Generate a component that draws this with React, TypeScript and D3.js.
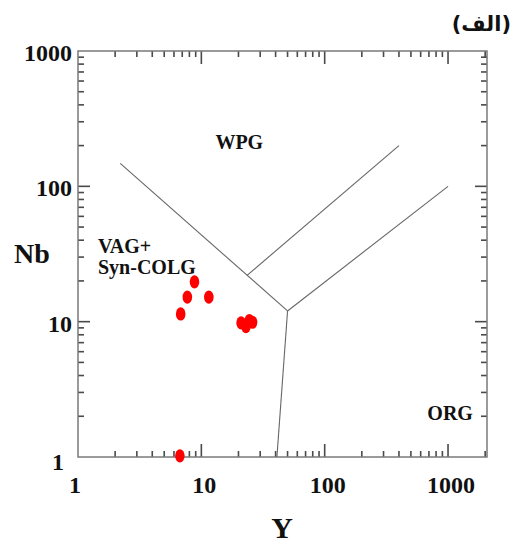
import * as d3 from 'd3'

// sample points (Y ppm, Nb ppm)
const yValues = [8.8, 7.7, 11.5, 6.8, 21, 23, 24.5, 26, 6.7]
const nbValues = [19.7, 15.2, 15.2, 11.4, 9.8, 9.2, 10.2, 9.9, 1.02]

// field boundaries, each as [Y, Nb] pairs
const boundaries: [number, number][][] = [
  [[2.2, 148], [50, 12]],
  [[50, 12], [41, 1]],
  [[50, 12], [1000, 100]],
  [[23.5, 22], [400, 200]],
]

const xTickLabels = [1, 10, 100, 1000]
const yTickLabels = [1, 10, 100, 1000]

const fieldLabels = [
  { text: 'WPG', Y: 13, Nb: 190 },
  { text: 'ORG', Y: 680, Nb: 1.88 },
]

const width = 524
const height = 545
const margin = { left: 78, right: 487, top: 51, bottom: 457 }
const serif = '"Liberation Serif", "Times New Roman", serif'

const App = () => {
  const x = d3.scaleLog().domain([1, 2070]).range([margin.left, margin.right])
  const y = d3.scaleLog().domain([1, 1000]).range([margin.bottom, margin.top])

  const isMajor = (v: number) => Math.abs(Math.log10(v) - Math.round(Math.log10(v))) < 1e-9
  const xTicks = x.ticks().filter(v => v > 1)
  const yTicks = y.ticks().filter(v => v > 1 && v < 1000)

  const line = d3.line<[number, number]>().x(d => x(d[0])).y(d => y(d[1]))
  const tw = 1.6

  return (
    <svg width={width} height={height}
      style={{ position: 'absolute', left: 0, top: 0, display: 'block', background: '#fff' }}>
      {/* inward ticks, drawn as thin filled bars */}
      <g fill="#4a4a4a">
        {xTicks.map(v => {
          const len = isMajor(v) ? 13 : 6
          return (
            <g key={'x' + v}>
              <rect x={x(v) - tw / 2} y={margin.bottom - len} width={tw} height={len} />
              <rect x={x(v) - tw / 2} y={margin.top} width={tw} height={len} />
            </g>
          )
        })}
        {yTicks.map(v => {
          const len = isMajor(v) ? 12 : 6
          return (
            <g key={'y' + v}>
              <rect x={margin.left} y={y(v) - tw / 2} width={len} height={tw} />
              <rect x={margin.right - len} y={y(v) - tw / 2} width={len} height={tw} />
            </g>
          )
        })}
      </g>
      <rect x={margin.left} y={margin.top} width={margin.right - margin.left}
        height={margin.bottom - margin.top} fill="none" stroke="#7a7a7a" strokeWidth={1.5} />

      {/* field boundaries */}
      {boundaries.map((b, i) => (
        <path key={i} d={line(b) || ''} fill="none" stroke="#666" strokeWidth={1.1} />
      ))}

      {/* tick labels */}
      <g fontFamily={serif} fontWeight="bold" fontSize={24} fill="#111">
        {xTickLabels.map(v => (
          <text key={'xl' + v} x={x(v) + (v === 1 ? -3 : 3)} y={493} textAnchor="middle">{v}</text>
        ))}
        {yTickLabels.map(v => (
          <text key={'yl' + v} x={v === 1 ? 64 : 72} y={v === 1 ? 470 : y(v) + 10} textAnchor="end">{v}</text>
        ))}
        <text x={282} y={538} fontSize={30} textAnchor="middle">Y</text>
        <text x={32} y={263} fontSize={28} textAnchor="middle">Nb</text>
      </g>

      {/* field labels */}
      <g fontFamily={serif} fontWeight="bold" fontSize={20} fill="#111">
        {fieldLabels.map(f => (
          <text key={f.text} x={x(f.Y)} y={y(f.Nb)}>{f.text}</text>
        ))}
        <text x={98} y={253}>VAG+</text>
        <text x={98} y={274}>Syn-COLG</text>
      </g>

      {/* samples */}
      {yValues.map((v, i) => (
        <ellipse key={i} cx={x(v)} cy={y(nbValues[i])} rx={4.8} ry={6.6} fill="#ff0000" />
      ))}

      <text x={511} y={31} textAnchor="end" fontFamily='"DejaVu Sans", sans-serif'
        fontWeight="bold" fontSize={21} fill="#111">(الف)</text>
    </svg>
  )
}

export default App
